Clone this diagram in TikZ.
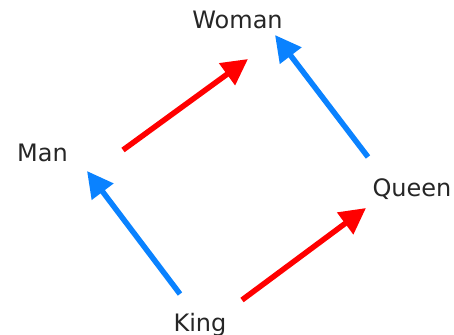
\documentclass[tikz,border=0pt]{standalone}
\usepackage{fontspec}
\setmainfont{DejaVu Sans}
\usetikzlibrary{arrows.meta}
\definecolor{vred}{RGB}{255,0,0}
\definecolor{vblue}{RGB}{10,130,255}
\begin{document}
\begin{tikzpicture}[x=1pt,y=-1pt,
  word/.style={anchor=base,inner sep=0pt,font=\fontsize{24}{28}\selectfont,text=black!85},
  vec/.style={line width=5.5pt,-{Triangle[length=26pt,width=26pt]}}]
\useasboundingbox (0,0) rectangle (454,334);
\node[word] (woman) at (237.5,28.5) {Woman};
\node[word] (man) at (42.5,161.5) {Man};
\node[word] (queen) at (412,196) {Queen};
\node[word] (king) at (200,331) {King};
\coordinate (r1s) at (123,150);
\coordinate (r1e) at (248,59);
\coordinate (b1s) at (368,157);
\coordinate (b1e) at (275,35);
\coordinate (b2s) at (180,294);
\coordinate (b2e) at (87,171);
\coordinate (r2s) at (242,300);
\coordinate (r2e) at (366,208);
\draw[vec,vred] (r1s) -- (r1e);
\draw[vec,vblue] (b1s) -- (b1e);
\draw[vec,vblue] (b2s) -- (b2e);
\draw[vec,vred] (r2s) -- (r2e);
\end{tikzpicture}
\end{document}
